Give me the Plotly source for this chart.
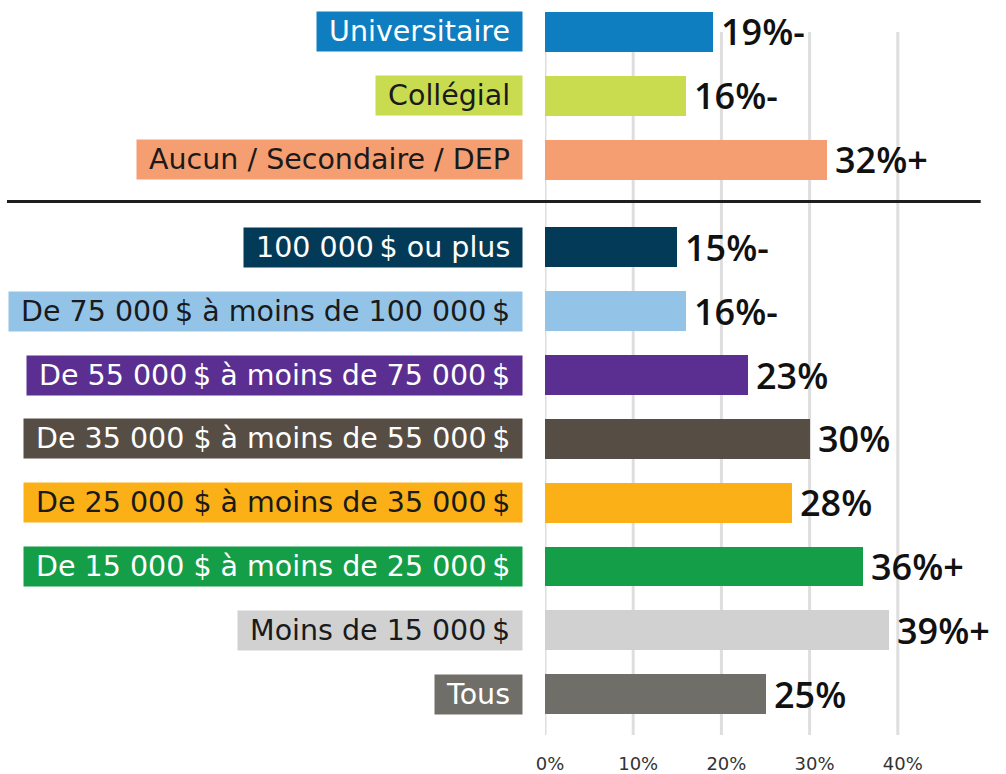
import plotly.graph_objects as go

# Education groups (top block), listed top to bottom
edu_labels = ["Universitaire", "Collégial", "Aucun / Secondaire / DEP"]
edu_values = [19, 16, 32]
edu_flags = ["-", "-", "+"]
edu_colors = ["#0F7EC0", "#C9DC50", "#F59E72"]
edu_text_colors = ["#FFFFFF", "#1A1A1A", "#1A1A1A"]

# Household income groups (bottom block), listed top to bottom
inc_labels = [
    "100 000\u202f$ ou plus",
    "De 75 000\u202f$ à moins de 100 000\u202f$",
    "De 55 000\u202f$ à moins de 75 000\u202f$",
    "De 35 000 $ à moins de 55 000\u202f$",
    "De 25 000 $ à moins de 35 000\u202f$",
    "De 15 000 $ à moins de 25 000\u202f$",
    "Moins de 15 000\u202f$",
    "Tous",
]
inc_values = [15, 16, 23, 30, 28, 36, 39, 25]
inc_flags = ["-", "-", "", "", "", "+", "+", ""]
inc_colors = ["#033A58", "#93C4E8", "#5A2F91", "#564D44",
              "#FBB018", "#149E48", "#D1D1D1", "#706E69"]
inc_text_colors = ["#FFFFFF", "#1A1A1A", "#FFFFFF", "#FFFFFF",
                   "#1A1A1A", "#FFFFFF", "#1A1A1A", "#FFFFFF"]

x_ticks = [0, 10, 20, 30, 40]
x_tick_labels = ["0%", "10%", "20%", "30%", "40%"]

FONT = "DejaVu Sans"
VALUE_FONT = "Open Sans"
GAP = 0.375          # extra space between the two blocks
BAR_W = 0.625

# y positions: income rows from the bottom, then education rows above a gap
n_inc = len(inc_labels)
inc_pos = [n_inc - 1 - i for i in range(n_inc)]
edu_base = n_inc + GAP
edu_pos = [edu_base + (len(edu_labels) - 1 - i) for i in range(len(edu_labels))]

labels = edu_labels + inc_labels
values = edu_values + inc_values
flags = edu_flags + inc_flags
colors = edu_colors + inc_colors
text_colors = edu_text_colors + inc_text_colors
pos = edu_pos + inc_pos

y_min = -0.64
y_max = max(pos) + 0.5

fig = go.Figure()
fig.add_trace(go.Bar(
    x=values, y=pos, orientation="h", width=BAR_W,
    marker=dict(color=colors, line=dict(width=0)),
    hoverinfo="skip",
))

# vertical gridlines from the top row down to the axis
for t in x_ticks:
    fig.add_shape(type="line", xref="x", yref="y", x0=t, x1=t,
                  y0=y_min, y1=max(pos), layer="below",
                  line=dict(color="#DEDEDE", width=3))

# separator between education and income blocks
sep_y = (n_inc - 1 + edu_base) / 2 + 0.03
fig.add_shape(type="line", xref="paper", yref="y",
              x0=-1.22, x1=0.988, y0=sep_y, y1=sep_y,
              line=dict(color="#1E1E1E", width=3))

for lab, v, f, c, tc, p in zip(labels, values, flags, colors, text_colors, pos):
    # coloured category tag
    fig.add_annotation(
        x=0, y=p, xref="x", yref="y", xanchor="right", yanchor="middle",
        xshift=-22, showarrow=False,
        text="\u00a0" + lab + "\u00a0",
        bgcolor=c, borderpad=3,
        font=dict(family=FONT, size=28.5, color=tc),
    )
    # value label
    fig.add_annotation(
        x=v, y=p, xref="x", yref="y", xanchor="left", yanchor="middle",
        xshift=6, showarrow=False,
        text=f"{v}%{f}",
        font=dict(family=VALUE_FONT, size=36, color="#111111", weight=600),
    )

fig.update_layout(
    width=1006, height=774,
    margin=dict(l=545, r=20, t=0, b=37),
    paper_bgcolor="white", plot_bgcolor="white",
    showlegend=False,
    bargap=0,
    xaxis=dict(range=[0, 50], tickvals=x_ticks, ticktext=x_tick_labels,
               showgrid=False, zeroline=False, showline=False,
               ticks="", ticklabelstandoff=16, ticklabelshift=5,
               tickfont=dict(family=FONT, size=18, color="#333333"),
               fixedrange=True),
    yaxis=dict(range=[y_min, y_max], showgrid=False, zeroline=False,
               showline=False, showticklabels=False, ticks="",
               fixedrange=True),
)

fig.write_html("out.html")
